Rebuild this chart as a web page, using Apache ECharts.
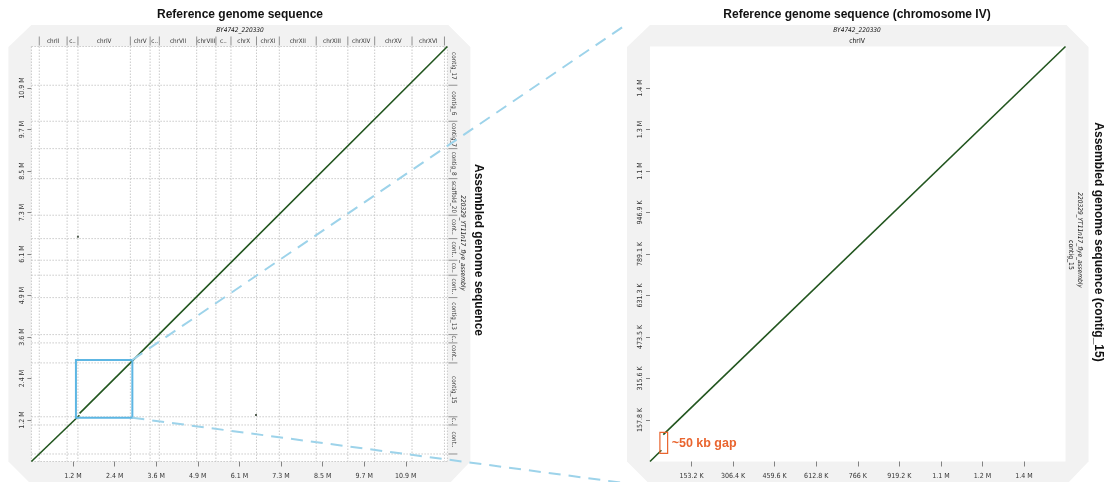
<!DOCTYPE html>
<html>
<head>
<meta charset="utf-8">
<script src="https://cdn.jsdelivr.net/npm/echarts@6/dist/echarts.min.js"></script>
<style>
html,body{margin:0;padding:0;background:#fff}
#main{width:1106px;height:482px}
</style>
</head>
<body>
<div id="main"></div>
<script>
// reference chromosomes (BY4742_220330), left to right
var chromNames  = ['chrI','chrII','chrIII','chrIV','chrV','chrVI','chrVII','chrVIII','chrIX','chrX','chrXI','chrXII','chrXIII','chrXIV','chrXV','chrXVI','chrM'];
var chromLabels = ['','chrII','c..','chrIV','chrV','c..','chrVII','chrVIII','c..','chrX','chrXI','chrXII','chrXIII','chrXIV','chrXV','chrXVI',''];
var chromSizes  = [230218,813184,316620,1531933,576874,270161,1090940,562643,439888,745751,666816,1078177,924431,784333,1091291,948066,85779];

// assembled contigs (220329_YT11n17_flye_assembly), bottom to top
var contigLabels = ['','cont..','c..','contig_15','cont..','c..','contig_13','cont..','co..','cont..','cont..','scaffold_20','contig_8','contig_7','contig_6','contig_17'];
var contigSizes  = [220000,850000,240000,1578200,586000,243000,1084000,656000,439000,633000,685000,1072000,879000,802000,1055000,1134905];

// alignments [refStart, refEnd, qryStart, qryEnd], whole genome
var genomeAlignments = [
  [0, 1360022, 0, 1310000],
  [1360022, 1403000, 1310000, 1354000],
  [1408000, 2891955, 1410000, 2888200],
  [2891955, 12157105, 2888200, 12157105]
];
var genomeDots = [[1360000, 6585000], [6563000, 1362000]];

// alignments chrIV vs contig_15
var zoomAlignments = [
  [0, 42000, 0, 43000],
  [49000, 1531933, 102000, 1578200]
];
var gapBox = [36500, 65000, 31000, 111000];
var gapLabel = '~50 kb gap';

var genomeTickLabels = ['1.2 M','2.4 M','3.6 M','4.9 M','6.1 M','7.3 M','8.5 M','9.7 M','10.9 M'];
var zoomXTickLabels  = ['153.2 K','306.4 K','459.6 K','612.8 K','766 K','919.2 K','1.1 M','1.2 M','1.4 M'];
var zoomYTickLabels  = ['157.8 K','315.6 K','473.5 K','631.3 K','789.1 K','946.9 K','1.1 M','1.3 M','1.4 M'];

function sum(a){ return a.reduce(function(s,v){ return s+v; }, 0); }
function starts(a){ var r=[],acc=0; a.forEach(function(v){ r.push(acc); acc+=v; }); return r; }

var refTotal = sum(chromSizes), qryTotal = sum(contigSizes);
var chromStarts = starts(chromSizes), contigStarts = starts(contigSizes);
var chrIVLen = chromSizes[3], c15Len = contigSizes[3];

function tickVals(total, labels){ return labels.map(function(l,i){ return total*(i+1)/10; }); }
function labelFor(vals, labels){
  return function(v){
    for (var i=0;i<vals.length;i++) if (Math.abs(vals[i]-v) < 1) return labels[i];
    return '';
  };
}
var gX = tickVals(refTotal, genomeTickLabels), gY = tickVals(qryTotal, genomeTickLabels);
var zX = tickVals(chrIVLen, zoomXTickLabels), zY = tickVals(c15Len, zoomYTickLabels);

var L = {left:31.4, top:46.5, width:416, height:415};
var R = {left:650, top:46.5, width:415.5, height:415};

var narrow = '"Liberation Sans Narrow","DejaVu Sans Condensed","Liberation Sans",sans-serif';
var green = '#22561f';

function axisX(idx, max, vals, labels){
  return {gridIndex:idx, type:'value', min:0, max:max,
    axisLine:{show:false}, splitLine:{show:false},
    axisTick:{customValues:vals, length:5, lineStyle:{color:'#666', width:0.8}},
    axisLabel:{customValues:vals, formatter:labelFor(vals, labels), fontSize:7, color:'#333', margin:11, fontFamily:narrow}};
}
function axisY(idx, max, vals, labels){
  return {gridIndex:idx, type:'value', min:0, max:max,
    axisLine:{show:false}, splitLine:{show:false},
    axisTick:{customValues:vals, length:4, lineStyle:{color:'#666', width:0.8}},
    axisLabel:{customValues:vals, formatter:labelFor(vals, labels), fontSize:7, color:'#333', margin:6, rotate:90, fontFamily:narrow}};
}

function segData(list){
  return list.map(function(a){ return {coords:[[a[0],a[2]],[a[1],a[3]]]}; });
}

var dotted = {stroke:'#bdbdbd', lineWidth:0.8, lineDash:[1.5,1.5]};
var stripFont = 6.3;

var chromItems = chromSizes.map(function(s,i){ return [chromStarts[i], chromStarts[i]+s, i]; });
var contigItems = contigSizes.map(function(s,i){ return [contigStarts[i], contigStarts[i]+s, i]; });

var option = {
  animation:false,
  grid:[
    {left:L.left, top:L.top, width:L.width, height:L.height, show:false},
    {left:R.left, top:R.top, width:R.width, height:R.height, show:false}
  ],
  xAxis:[axisX(0, refTotal, gX, genomeTickLabels), axisX(1, chrIVLen, zX, zoomXTickLabels)],
  yAxis:[axisY(0, qryTotal, gY, genomeTickLabels), axisY(1, c15Len, zY, zoomYTickLabels)],
  series:[
    {type:'custom', xAxisIndex:0, yAxisIndex:0, silent:true, clip:false, data:chromItems,
      renderItem:function(params, api){
        var s=api.value(0), e=api.value(1), i=api.value(2);
        var p0=api.coord([s,0]), p1=api.coord([e,qryTotal]);
        var top=p1[1], bot=p0[1], ch=[];
        ch.push({type:'line', shape:{x1:p0[0],y1:top,x2:p0[0],y2:bot}, style:dotted});
        if (i === chromSizes.length-1) ch.push({type:'line', shape:{x1:p1[0],y1:top,x2:p1[0],y2:bot}, style:dotted});
        if (i < chromSizes.length-1) ch.push({type:'line', shape:{x1:p1[0],y1:top-10,x2:p1[0],y2:top-1}, style:{stroke:'#777', lineWidth:0.8}});
        ch.push({type:'text', x:(p0[0]+p1[0])/2, y:top-5.5, style:{text:chromLabels[i], fontSize:stripFont, fontFamily:narrow, fill:'#333', align:'center', verticalAlign:'middle'}});
        return {type:'group', children:ch};
      }},
    {type:'custom', xAxisIndex:0, yAxisIndex:0, silent:true, clip:false, data:contigItems,
      renderItem:function(params, api){
        var s=api.value(0), e=api.value(1), i=api.value(2);
        var p0=api.coord([0,s]), p1=api.coord([refTotal,e]);
        var left=p0[0], right=p1[0], ch=[];
        ch.push({type:'line', shape:{x1:left,y1:p0[1],x2:right,y2:p0[1]}, style:dotted});
        if (i === contigSizes.length-1) ch.push({type:'line', shape:{x1:left,y1:p1[1],x2:right,y2:p1[1]}, style:dotted});
        if (i < contigSizes.length-1) ch.push({type:'line', shape:{x1:right+1,y1:p1[1],x2:right+10,y2:p1[1]}, style:{stroke:'#777', lineWidth:0.8}});
        ch.push({type:'text', x:right+6, y:(p0[1]+p1[1])/2, rotation:-Math.PI/2, style:{text:contigLabels[i], fontSize:stripFont, fontFamily:narrow, fill:'#333', align:'center', verticalAlign:'middle'}});
        return {type:'group', children:ch};
      }},
    {type:'lines', coordinateSystem:'cartesian2d', xAxisIndex:0, yAxisIndex:0, silent:true, z:3,
      data:segData(genomeAlignments), lineStyle:{color:green, width:1.6, opacity:1}},
    {type:'scatter', xAxisIndex:0, yAxisIndex:0, silent:true, z:3, symbol:'rect', symbolSize:2,
      data:genomeDots, itemStyle:{color:'#2a3a28'}},
    {type:'custom', xAxisIndex:0, yAxisIndex:0, silent:true, clip:false, z:4,
      data:[[chromStarts[3], chromStarts[3]+chrIVLen, contigStarts[3], contigStarts[3]+c15Len]],
      renderItem:function(params, api){
        var a=api.coord([api.value(0), api.value(2)]), b=api.coord([api.value(1), api.value(3)]);
        return {type:'rect', shape:{x:a[0]-2, y:b[1]-3, width:b[0]-a[0]+4, height:a[1]-b[1]+4},
          style:{fill:'none', stroke:'#5db6e3', lineWidth:2}};
      }},
    {type:'lines', coordinateSystem:'cartesian2d', xAxisIndex:1, yAxisIndex:1, silent:true, z:3,
      data:segData(zoomAlignments), lineStyle:{color:green, width:1.6, opacity:1}},
    {type:'custom', xAxisIndex:1, yAxisIndex:1, silent:true, clip:false, z:4, data:[gapBox],
      renderItem:function(params, api){
        var a=api.coord([api.value(0), api.value(2)]), b=api.coord([api.value(1), api.value(3)]);
        return {type:'group', children:[
          {type:'rect', shape:{x:a[0], y:b[1], width:b[0]-a[0], height:a[1]-b[1]},
            style:{fill:'none', stroke:'#e9652f', lineWidth:1.2}},
          {type:'text', x:b[0]+4, y:(a[1]+b[1])/2+1, style:{text:gapLabel, fontSize:12.5, fontWeight:'bold', fontFamily:'"Liberation Sans",Arial,sans-serif', fill:'#e9652f', align:'left', verticalAlign:'middle'}}
        ]};
      }}
  ]
};

function panel(g, id){
  var x0=g.left, y0=g.top, x1=g.left+g.width, y1=g.top+g.height;
  return [
    {type:'polygon', id:id+'bg', z:-10, silent:true,
      shape:{points:[[x0,25],[x1+1,25],[x1+23,y0+0.5],[x1+23,y1],[x1+2,y1+22],[x0-1,y1+22],[x0-23,y1],[x0-23,y0+0.5]]},
      style:{fill:'#f2f2f2'}},
    {type:'rect', id:id+'fg', z:-9, silent:true, shape:{x:x0, y:y0, width:g.width, height:g.height}, style:{fill:'#fff'}}
  ];
}
function txt(id, x, y, text, font, rot){
  return {type:'text', id:id, x:x, y:y, rotation:rot||0, z:20, silent:true,
    style:{text:text, font:font, fill:'#111', align:'center', verticalAlign:'middle'}};
}
var titleFont = 'bold 12px "Liberation Sans",Arial,sans-serif';
var italicFont = 'italic 6.5px ' + narrow;
var smallFont = '6.8px ' + narrow;

option.graphic = [].concat(
  panel(L, 'l'), panel(R, 'r'),
  [
    txt('t1', 240, 15, 'Reference genome sequence', titleFont),
    txt('t2', 240, 30, 'BY4742_220330', italicFont),
    txt('t3', 478, 250, 'Assembled genome sequence', titleFont, -Math.PI/2),
    txt('t4', 463, 243, '220329_YT11n17_flye_assembly', italicFont, -Math.PI/2),
    txt('t5', 857, 15, 'Reference genome sequence (chromosome IV)', titleFont),
    txt('t6', 857, 30, 'BY4742_220330', italicFont),
    txt('t7', 857, 41, chromNames[3], smallFont),
    txt('t8', 1080, 240, '220329_YT11n17_flye_assembly', italicFont, -Math.PI/2),
    txt('t9', 1071, 255, 'contig_15', smallFont, -Math.PI/2),
    txt('t10', 1098, 242, 'Assembled genome sequence (contig_15)', titleFont, -Math.PI/2)
  ]
);

var chart = echarts.init(document.getElementById('main'));
chart.setOption(option);

// connectors from the highlighted block to the zoomed panel
var tr = chart.convertToPixel({xAxisIndex:0, yAxisIndex:0}, [chromStarts[3]+chrIVLen, contigStarts[3]+c15Len]);
var br = chart.convertToPixel({xAxisIndex:0, yAxisIndex:0}, [chromStarts[3]+chrIVLen, contigStarts[3]]);
var dash = {stroke:'#9dd3ea', lineWidth:2, lineDash:[12,8]};
chart.setOption({graphic:[
  {type:'line', id:'c1', z:15, silent:true, shape:{x1:tr[0]+2, y1:tr[1]-3, x2:R.left-23, y2:24}, style:dash},
  {type:'line', id:'c2', z:15, silent:true, shape:{x1:br[0]+2, y1:br[1]+1, x2:R.left-22, y2:R.top+R.height+22}, style:dash}
]});
</script>
</body>
</html>
